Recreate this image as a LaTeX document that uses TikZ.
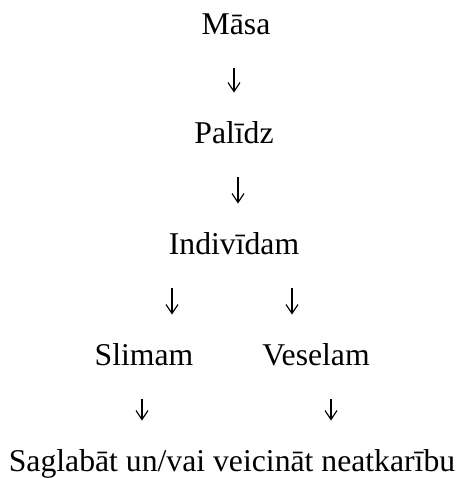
\documentclass[tikz,border=0pt]{standalone}
\usepackage{fontspec}
\setmainfont{Liberation Serif}
\usetikzlibrary{arrows.meta}
\begin{document}
\begin{tikzpicture}[x=0.5pt, y=-0.5pt,
    word/.style={anchor=base, inner sep=0pt, text height=11pt, text depth=0pt,
                 font=\fontsize{15.85}{19}\selectfont},
    arr/.style={-{Straight Barb[length=4.5pt,width=6pt]}, line width=0.6pt,
                shorten <=17pt, shorten >=14pt}]
\useasboundingbox (0,0) rectangle (459,478);

\node[word] (masa) at (236,34) {Māsa};
\node[word] (palidz) at (234,143) {Palīdz};
\node[word] (indiv) at (234,254) {Indivīdam};
\node[word] (slim) at (144,365) {Slimam};
\node[word] (vesel) at (316,365) {Veselam};
\node[word] (sagl) at (232,471) {Saglabāt un/vai veicināt neatkarību};

\draw[arr] ([xshift=-1pt]masa.south) -- (palidz.north);
\draw[arr] ([xshift=2pt]palidz.south) -- ([xshift=2pt]indiv.north);
\draw[arr] ([xshift=-31pt]indiv.south) -- ([xshift=14pt]slim.north);
\draw[arr] ([xshift=29pt]indiv.south) -- ([xshift=-12pt]vesel.north);
\draw[arr] ([xshift=-1pt]slim.south) -- ([xshift=-45pt]sagl.north);
\draw[arr] ([xshift=7.5pt]vesel.south) -- ([xshift=49.5pt]sagl.north);
\end{tikzpicture}
\end{document}
